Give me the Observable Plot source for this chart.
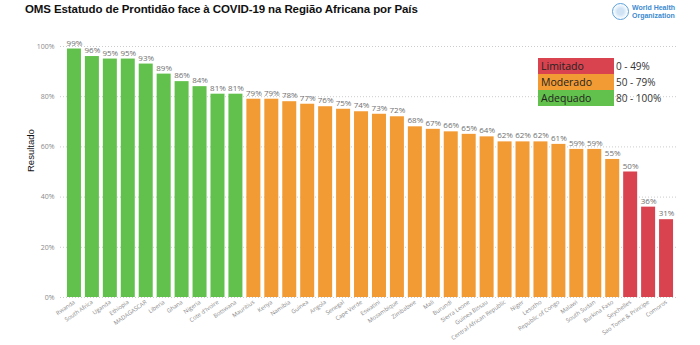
<!DOCTYPE html>
<html>
<head>
<meta charset="utf-8">
<script src="https://cdn.jsdelivr.net/npm/d3@7"></script>
<script src="https://cdn.jsdelivr.net/npm/@observablehq/plot@0.6"></script>
<style>
  body { margin: 0; background: #fff; width: 700px; height: 345px; overflow: hidden; position: relative; font-family: "Open Sans", sans-serif; }
  #title { position: absolute; left: 25px; top: 3px; font: bold 11.5px "Liberation Sans", Arial, sans-serif; color: #111; white-space: nowrap; letter-spacing: -0.1px; }
  #logo { position: absolute; left: 612px; top: 3px; display: flex; align-items: center; gap: 3px; color: #3d8bd0; font: bold 7px "Liberation Sans", Arial, sans-serif; line-height: 7.5px; }
  #logo .globe { width: 17px; height: 17px; border-radius: 50%; border: 1.5px solid #5aa0dc; box-sizing: border-box; background: radial-gradient(circle, #cfe3f5 30%, #fff 70%); }
  #chart { position: absolute; left: 0; top: 30px; width: 700px; }
  #chart svg { max-width: none !important; }
  #legend { position: absolute; left: 538px; top: 58px; font: 9.5px "Open Sans", sans-serif; }
  #legend .row { display: flex; align-items: center; height: 16px; }
  #legend .sw { width: 76px; height: 16px; padding-left: 3px; box-sizing: border-box; color: #222; line-height: 16px; font-size: 10.5px; }
  #legend .rng { padding-left: 2px; color: #333; font-size: 10px; }
</style>
</head>
<body>
<div id="title">OMS Estatudo de Prontidão face à COVID-19 na Região Africana por País</div>
<div id="logo"><div class="globe"></div><div>World Health<br>Organization</div></div>
<div id="chart"></div>
<div id="legend"></div>
<script>
const paises = ["Rwanda","South Africa","Uganda","Ethiopia","MADAGASCAR","Liberia","Ghana","Nigeria","Cote d'Ivoire","Botswana","Mauritius","Kenya","Namibia","Guinea","Angola","Senegal","Cape Verde","Eswatini","Mozambique","Zimbabwe","Mali","Burundi","Sierra Leone","Guinea Bissau","Central African Republic","Niger","Lesotho","Republic of Congo","Malawi","South Sudan","Burkina Faso","Seychelles","Sao Tome & Principe","Comoros"];
const resultado = [99,96,95,95,93,89,86,84,81,81,79,79,78,77,76,75,74,73,72,68,67,66,65,64,62,62,62,61,59,59,55,50,36,31];
const nivel = ["Adequado","Adequado","Adequado","Adequado","Adequado","Adequado","Adequado","Adequado","Adequado","Adequado","Moderado","Moderado","Moderado","Moderado","Moderado","Moderado","Moderado","Moderado","Moderado","Moderado","Moderado","Moderado","Moderado","Moderado","Moderado","Moderado","Moderado","Moderado","Moderado","Moderado","Moderado","Limitado","Limitado","Limitado"];
const niveis = ["Limitado","Moderado","Adequado"];
const faixas = ["0 - 49%","50 - 79%","80 - 100%"];
const cores = ["#d8434f","#f29b34","#62c14c"];
const yTicks = [0,20,40,60,80,100];

const data = paises.map((p,i) => ({pais: p, valor: resultado[i], nivel: nivel[i]}));

const chart = Plot.plot({
  width: 700,
  height: 315,
  marginLeft: 63,
  marginRight: 23,
  marginTop: 16,
  marginBottom: 48,
  style: {fontFamily: "'Open Sans', sans-serif", background: "transparent"},
  x: {domain: paises, padding: 0.22, label: null, axis: null},
  y: {domain: [0, 100], label: null, axis: null},
  color: {domain: niveis, range: cores},
  marks: [
    Plot.ruleY(yTicks, {stroke: "#ccc", strokeDasharray: "1,2", insetLeft: -3}),
    Plot.axisY(yTicks, {tickSize: 0, tickPadding: 9, tickFormat: d => d + "%", fontSize: 7, fill: "#8a8a8a"}),
    Plot.text(["Resultado"], {frameAnchor: "left", dx: -33, rotate: -90, fontSize: 9.5, fill: "#111", fontFamily: "'Liberation Sans', Arial, sans-serif"}),
    Plot.barY(data, {x: "pais", y: "valor", fill: "nivel"}),
    Plot.text(data, {x: "pais", y: "valor", text: d => d.valor + "%", dy: -6, fontSize: 8, fill: "#707070"}),
    Plot.axisX({tickSize: 0, tickPadding: 4, tickRotate: -35, fontSize: 5.8, fill: "#888", textAnchor: "end"})
  ]
});
document.getElementById("chart").appendChild(chart);

const legend = document.getElementById("legend");
niveis.forEach((n, i) => {
  const row = document.createElement("div");
  row.className = "row";
  row.innerHTML = `<div class="sw" style="background:${cores[i]}">${n}</div><div class="rng">${faixas[i]}</div>`;
  legend.appendChild(row);
});
</script>
</body>
</html>
